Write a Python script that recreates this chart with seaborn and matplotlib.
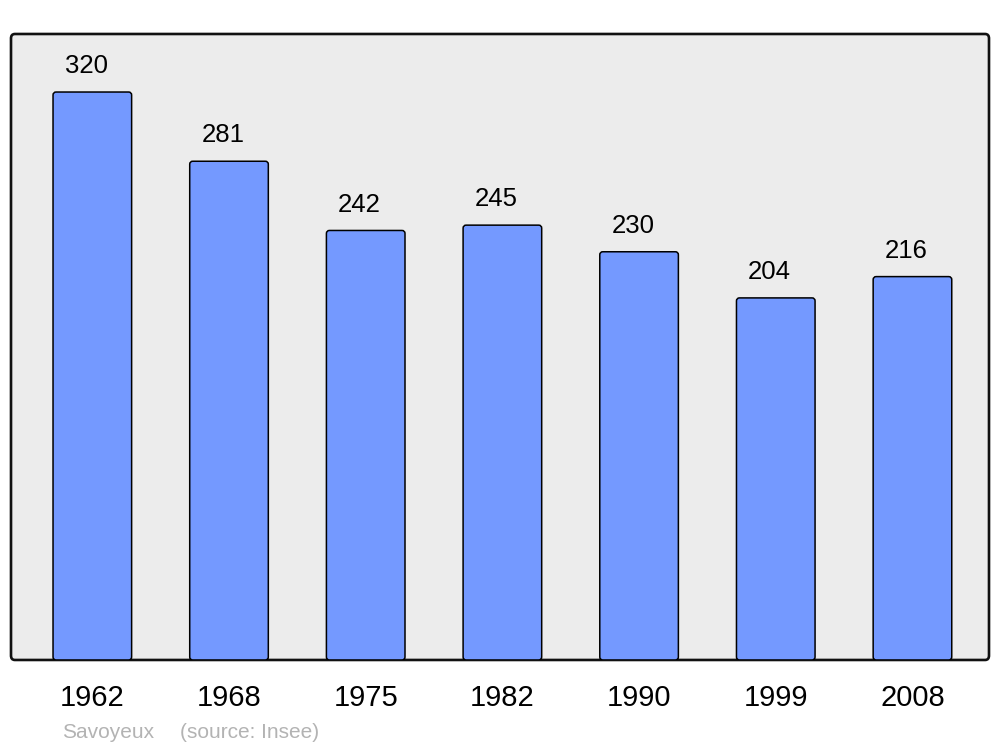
import matplotlib
matplotlib.use("Agg")
import matplotlib.pyplot as plt
import seaborn as sns
import pandas as pd
from matplotlib.patches import FancyBboxPatch

years = ["1962", "1968", "1975", "1982", "1990", "1999", "2008"]
population = [320, 281, 242, 245, 230, 204, 216]
commune = "Savoyeux"
source = "(source: Insee)"

sns.set_theme(style="white")
plt.rcParams['font.family'] = ['Liberation Sans', 'DejaVu Sans']

df = pd.DataFrame({"year": years, "pop": population})

fig = plt.figure(figsize=(10, 7.47), dpi=100)
ax = fig.add_axes([0.011, 0.1165, 0.978, 0.838])
ax.set_facecolor("none")

sns.barplot(data=df, x="year", y="pop", color="#7499ff", width=0.575,
            saturation=1, edgecolor="black", linewidth=1.1, ax=ax)

ax.set_xlim(-0.595, 6.56)
ax.set_ylim(0, 352.7)

# rounded frame in axes coordinates
frame = FancyBboxPatch((0, 0), 1, 1, boxstyle="round,pad=0,rounding_size=0.004",
                       mutation_aspect=1.75, transform=ax.transAxes,
                       facecolor="#ececec", edgecolor="#111111", linewidth=1.9,
                       zorder=0.5, clip_on=False)
ax.add_patch(frame)

# rounded bars built from the library's bars
for p in list(ax.patches):
    if p is frame:
        continue
    x, y = p.get_x(), p.get_y()
    w, h = p.get_width(), p.get_height()
    fb = FancyBboxPatch((x, y), w, h,
                        boxstyle="round,pad=0,rounding_size=0.022",
                        mutation_aspect=77,
                        facecolor="#7499ff", edgecolor="black", linewidth=1.1,
                        zorder=2)
    p.set_visible(False)
    ax.add_patch(fb)
    ax.annotate(f"{int(round(h))}", (x + w / 2, h), xytext=(-4.5, 13.5),
                textcoords="offset points", ha="center", va="baseline",
                fontsize=18.5, color="black")

for s in ax.spines.values():
    s.set_visible(False)

ax.set_xlabel("")
ax.set_ylabel("")
ax.set_yticks([])
ax.tick_params(axis="x", length=0, pad=17, labelsize=21, labelcolor="black")

fig.text(0.062, 0.012, commune, fontsize=15, color="#b3b3b3", ha="left", va="baseline")
fig.text(0.180, 0.012, source, fontsize=15, color="#b3b3b3", ha="left", va="baseline")

fig.savefig("out.png", dpi=100, facecolor="white")
